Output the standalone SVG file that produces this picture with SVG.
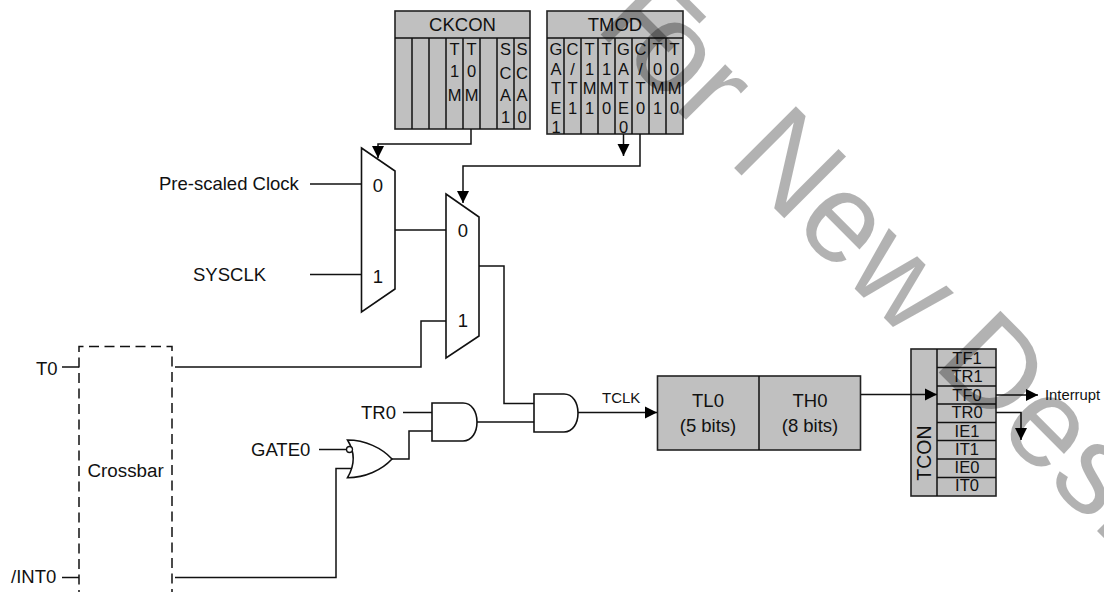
<svg xmlns="http://www.w3.org/2000/svg" width="1104" height="592" viewBox="0 0 1104 592">
<style>
text{font-family:"Liberation Sans",Arial,sans-serif;fill:#111}
.s{fill:none;stroke:#111;stroke-width:1.5}
.b{fill:#c0c0c0;stroke:#222;stroke-width:1.6}
.g{fill:#fff;stroke:#111;stroke-width:1.6}
.l{font-size:18.500px}
.c{text-anchor:middle}
.r{font-size:16.500px;text-anchor:middle}
.h{font-size:18.500px;text-anchor:middle}
.a{marker-end:url(#ar)}
</style>
<defs><marker id="ar" markerUnits="userSpaceOnUse" markerWidth="13" markerHeight="13" refX="12" refY="6.500" orient="auto"><path d="M0 .5L12 6.500L0 12.500z" fill="#000"/></marker></defs>
<rect width="1104" height="592" fill="#fff"/>
<g id="ckcon">
<rect class="b" x="395" y="11" width="135" height="118"/>
<path class="s" d="M395 38H530M412 38V129M429 38V129M446 38V129M463 38V129M480 38V129M497 38V129M514 38V129"/>
<text class="h" x="462.500" y="31">CKCON</text>
<text class="r" x="454.500" y="55">T</text><text class="r" x="454.500" y="77">1</text><text class="r" x="454.500" y="101">M</text>
<text class="r" x="471.500" y="55">T</text><text class="r" x="471.500" y="77">0</text><text class="r" x="471.500" y="101">M</text>
<text class="r" x="505.500" y="55">S</text><text class="r" x="505.500" y="79">C</text><text class="r" x="505.500" y="101">A</text><text class="r" x="505.500" y="123">1</text>
<text class="r" x="522" y="55">S</text><text class="r" x="522" y="79">C</text><text class="r" x="522" y="101">A</text><text class="r" x="522" y="123">0</text>
</g>
<g id="tmod">
<rect class="b" x="547" y="11" width="136" height="123"/>
<path class="s" d="M547 38H683M564 38V134M581 38V134M598 38V134M615 38V134M632 38V134M649 38V134M666 38V134"/>
<text class="h" x="615" y="31">TMOD</text>
<text class="r" x="556" y="55">G</text><text class="r" x="556" y="74.500">A</text><text class="r" x="556" y="94">T</text><text class="r" x="556" y="113.500">E</text><text class="r" x="556" y="133">1</text>
<text class="r" x="572.500" y="55">C</text><text class="r" x="572.500" y="74.500">/</text><text class="r" x="572.500" y="94">T</text><text class="r" x="572.500" y="113.500">1</text>
<text class="r" x="589.500" y="55">T</text><text class="r" x="589.500" y="74.500">1</text><text class="r" x="589.500" y="94">M</text><text class="r" x="589.500" y="113.500">1</text>
<text class="r" x="606.500" y="55">T</text><text class="r" x="606.500" y="74.500">1</text><text class="r" x="606.500" y="94">M</text><text class="r" x="606.500" y="113.500">0</text>
<text class="r" x="623.500" y="55">G</text><text class="r" x="623.500" y="74.500">A</text><text class="r" x="623.500" y="94">T</text><text class="r" x="623.500" y="113.500">E</text><text class="r" x="623.500" y="133">0</text>
<text class="r" x="640.500" y="55">C</text><text class="r" x="640.500" y="74.500">/</text><text class="r" x="640.500" y="94">T</text><text class="r" x="640.500" y="113.500">0</text>
<text class="r" x="657.500" y="55">T</text><text class="r" x="657.500" y="74.500">0</text><text class="r" x="657.500" y="94">M</text><text class="r" x="657.500" y="113.500">1</text>
<text class="r" x="674.500" y="55">T</text><text class="r" x="674.500" y="74.500">0</text><text class="r" x="674.500" y="94">M</text><text class="r" x="674.500" y="113.500">0</text>
</g>
<g id="mux1"><path class="g" d="M361.500 148L395 171V289L361.500 312z"/><text class="l c" x="378" y="192">0</text><text class="l c" x="378" y="283">1</text></g>
<g id="mux2"><path class="g" d="M446 194L479 217V336L446 358z"/><text class="l c" x="463" y="237">0</text><text class="l c" x="463" y="327">1</text></g>
<g id="prescaled"><text class="l" x="159" y="190">Pre-scaled Clock</text></g>
<g id="sysclk"><text class="l" x="193" y="281">SYSCLK</text></g>
<g id="t0"><text class="l" x="36" y="375">T0</text></g>
<g id="int0"><text class="l" x="11" y="583">/INT0</text></g>
<g id="crossbar"><path d="M79 600V346.500H172V600" fill="none" stroke="#111" stroke-width="1.500" stroke-dasharray="10 5.500"/><text class="l" x="87.500" y="476.500" style="font-size:18.800px">Crossbar</text></g>
<g id="tr0"><text class="l" x="361" y="419">TR0</text></g>
<g id="gate0"><text class="l" x="251" y="456">GATE0</text></g>
<g id="or"><path class="g" d="M347.500 440C365 440 382 448 392 459C382 470 365 477.700 347.500 477.700C355 465 355 452 347.500 440z"/><circle cx="349.500" cy="449.500" r="3" fill="#fff" stroke="#111" stroke-width="1.300"/></g>
<g id="and1"><path class="g" d="M432 403H463C472 403 477 412 477 422C477 432 472 441 463 441H432z"/></g>
<g id="and2"><path class="g" d="M534 394H564C573 394 578 403 578 413C578 423 573 432 564 432H534z"/></g>
<g id="tclk"><text x="602" y="403" style="font-size:15px">TCLK</text></g>
<g id="counter">
<rect class="b" x="657.500" y="376" width="203" height="74"/><path class="s" d="M759 376V450"/>
<text class="l c" x="708" y="407">TL0</text><text class="l c" x="708" y="432">(5 bits)</text>
<text class="l c" x="810" y="407">TH0</text><text class="l c" x="810" y="432">(8 bits)</text>
</g>
<g id="tcon">
<rect class="b" x="911" y="349" width="85" height="147"/>
<path class="s" d="M937 349V496M937 367.500H996M937 386H996M937 404H996M937 422.500H996M937 440.500H996M937 459H996M937 477.500H996"/>
<text transform="translate(931,453) rotate(-90)" class="h" style="font-size:19.500px">TCON</text>
<text class="r" x="967" y="364">TF1</text><text class="r" x="967" y="382">TR1</text><text class="r" x="967" y="401">TF0</text><text class="r" x="967" y="418">TR0</text><text class="r" x="967" y="437">IE1</text><text class="r" x="967" y="455">IT1</text><text class="r" x="967" y="473">IE0</text><text class="r" x="967" y="491">IT0</text>
</g>
<g id="interrupt"><text x="1045" y="400" style="font-size:14.800px">Interrupt</text></g>
<g id="connectors" class="s">
<path d="M471 129V144H378V158" class="s a"/>
<path d="M623.500 134V156" class="s a"/>
<path d="M640 134V166H463V203" class="s a"/>
<path d="M310 184H361"/>
<path d="M310 274.500H361"/>
<path d="M395 230H446"/>
<path d="M175 367H421V321H446"/>
<path d="M479 266H504V403.500H534"/>
<path d="M62 367H79"/>
<path d="M62 577.500H79"/>
<path d="M175 577.500H336V468.500H352"/>
<path d="M403 412.500H432"/>
<path d="M319 449.500H346"/>
<path d="M392 459H409V431H432"/>
<path d="M477 422H534"/>
<path d="M578 412.500H657" class="s a"/>
<path d="M861 394.500H937" class="s a"/>
<path d="M996 395H1038" class="s a"/>
<path d="M996 412.500H1021V440" class="s a"/>
</g>
<g id="watermark"><text transform="translate(567,1) rotate(45)" dx="37 -37" style="font-size:127px;fill:#000;fill-opacity:.3">For New Desi</text></g>
</svg>
